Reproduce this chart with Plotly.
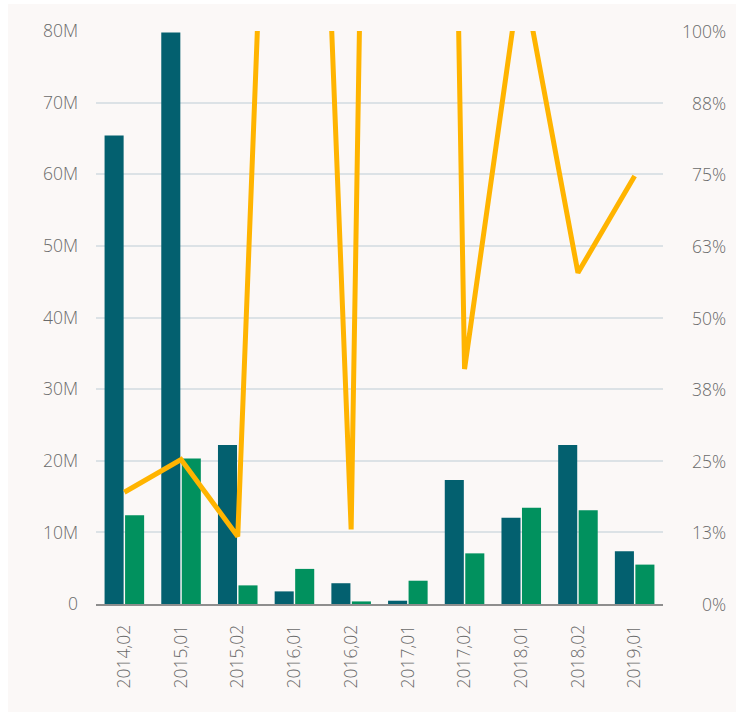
import plotly.graph_objects as go

# Reporting periods (year,half)
periods = ["2014,02", "2015,01", "2015,02", "2016,01", "2016,02",
           "2017,01", "2017,02", "2018,01", "2018,02", "2019,01"]

# Bar series, in millions
series_a = [65.4, 79.8, 22.2, 1.76, 2.9, 0.46, 17.3, 12.05, 22.2, 7.35]
series_b = [12.4, 20.3, 2.6, 4.9, 0.36, 3.25, 7.07, 13.45, 13.1, 5.5]

# Line series on the right axis (fraction, 1.0 = 100%)
ratio = [0.195, 0.252, 0.118, 2.67, 0.13, 6.1, 0.41, 1.11, 0.578, 0.747]

# Axis ticks
left_ticks = [0, 10, 20, 30, 40, 50, 60, 70, 80]
left_text = ["0", "10M", "20M", "30M", "40M", "50M", "60M", "70M", "80M"]
right_ticks = [0, 0.125, 0.25, 0.375, 0.5, 0.625, 0.75, 0.875, 1.0]
right_text = ["0%", "13%", "25%", "38%", "50%", "63%", "75%", "88%", "100%"]

DARK = "#03606F"
GREEN = "#01915E"
GOLD = "#FFB400"
PANEL = "#FBF8F7"
GRID = "#DCE2E6"
TEXT = "#6A6A6A"
FONT = "Open Sans"
FSIZE = 17.5
FWEIGHT = 300

W, H = 736, 712
ML, MR, MT, MB = 96, 73, 31, 108
PW, PH = W - ML - MR, H - MT - MB

tick_font = dict(family=FONT, size=FSIZE, color=TEXT, weight=FWEIGHT)

fig = go.Figure()
fig.add_trace(go.Bar(x=periods, y=[v * 1e6 for v in series_a],
                     marker=dict(color=DARK, line=dict(width=0)), yaxis="y"))
fig.add_trace(go.Bar(x=periods, y=[v * 1e6 for v in series_b],
                     marker=dict(color=GREEN, line=dict(width=0)), yaxis="y"))
fig.add_trace(go.Scatter(x=periods, y=ratio, mode="lines", yaxis="y2",
                         line=dict(color=GOLD, width=5)))

# Panel background (inset from the page edge on the left and top)
fig.add_shape(type="rect", xref="paper", yref="paper", layer="below",
              x0=(8 - ML) / PW, x1=(W + 10 - ML) / PW,
              y0=-(H + 10 - MT - PH) / PH, y1=(PH + MT - 4) / PH,
              fillcolor=PANEL, line=dict(width=0))

# Right-axis labels, right-aligned
for v, t in zip(right_ticks, right_text):
    fig.add_annotation(x=(728 - ML) / PW, xref="paper", y=v, yref="y2",
                       text=t, showarrow=False, xanchor="right", yanchor="middle",
                       font=tick_font)

fig.update_layout(
    width=W, height=H,
    margin=dict(l=ML, r=MR, t=MT, b=MB, pad=0),
    paper_bgcolor="white", plot_bgcolor=PANEL,
    showlegend=False,
    barmode="group", bargap=0.277, bargroupgap=0.07,
    font=dict(family=FONT, size=FSIZE, color=TEXT),
    xaxis=dict(type="category", tickangle=-90, showgrid=False,
               showline=True, linecolor="#8E8E8E", linewidth=1.5,
               ticks="", ticklabelstandoff=12, tickfont=tick_font),
    yaxis=dict(range=[0, 80e6], tickvals=[v * 1e6 for v in left_ticks],
               ticktext=left_text, showgrid=True, gridcolor=GRID, gridwidth=1.5,
               zeroline=False, showline=False, ticks="", ticklabelstandoff=17,
               tickfont=tick_font),
    yaxis2=dict(range=[0, 1], overlaying="y", side="right",
                showgrid=False, zeroline=False, showticklabels=False, ticks=""),
)

fig.write_html("out.html", config={"displayModeBar": False})
